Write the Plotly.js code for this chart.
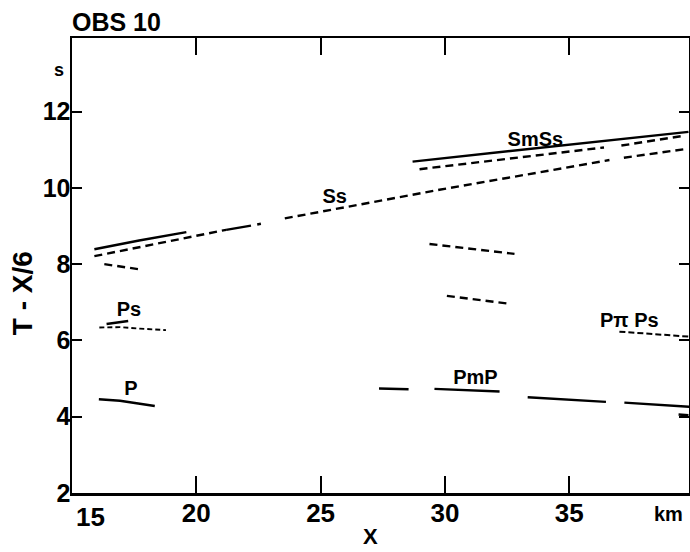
<!DOCTYPE html>
<html>
<head>
<meta charset="utf-8">
<script src="https://cdn.plot.ly/plotly-3.0.1.min.js"></script>
<style>html,body{margin:0;padding:0;background:#fff;}#chart{width:690px;height:552px;}</style>
</head>
<body>
<div id="chart"></div>
<script>
// ---- data ----
const xTickVals = [15, 20, 25, 30, 35];
const xTickText = ["15", "20", "25", "30", "35"];
const yTickVals = [2, 4, 6, 8, 10, 12];
const yTickText = ["2", "4", "6", "8", "10", "12"];

// solid SmSs branch
const smssX = [28.7, 34.8, 39.8];
const smssY = [10.69, 11.12, 11.47];
// dashed branch just below SmSs
const smssDashX = [28.98, 36.4, null, 37.1, 39.65];
const smssDashY = [10.49, 11.06, null, 11.11, 11.37];
// Ss dashed branch
const ssDashX = [15.9, 21.2, null, 23.56, 29.78, 36.62, null, 37.2, 39.69];
const ssDashY = [8.21, 8.90, null, 9.20, 9.95, 10.73, null, 10.79, 11.02];
// Ss solid pieces
const ssSolidX = [21.2, 22.2, null, 22.45, 22.6];
const ssSolidY = [8.90, 9.01, null, 9.04, 9.06];
// solid branch above Ss near the start
const upperSolidX = [15.9, 17.7, 19.6];
const upperSolidY = [8.39, 8.62, 8.84];
// short dashed branch below Ss
const lowDashX = [16.3, 17.66];
const lowDashY = [8.00, 7.87];
// Ps branches
const psSolidX = [16.39, 17.26];
const psSolidY = [6.43, 6.51];
const psDashX = [16.1, 16.93, 17.73, 18.78];
const psDashY = [6.34, 6.35, 6.31, 6.27];
// P branch
const pX = [16.08, 16.93, 18.33];
const pY = [4.46, 4.42, 4.28];
// dashed branches at far offsets
const midDash1X = [29.38, 32.8];
const midDash1Y = [8.53, 8.27];
const midDash2X = [30.08, 32.6];
const midDash2Y = [7.17, 6.96];
// PmP branch
const pmpX = [27.35, 28.54, null, 29.58, 32.2, null, 33.33, 36.48, null, 37.22, 39.83, null, 39.4, 39.8];
const pmpY = [4.74, 4.72, null, 4.73, 4.66, null, 4.51, 4.39, null, 4.37, 4.26, null, 4.06, 4.04];
// PπPs branch
const ppsX = [37.02, 39.83];
const ppsY = [6.23, 6.10];

// phase labels
const labelText = ["SmSs", "Ss", "Ps", "P", "PmP", "P\u03c0 Ps"];
const labelX = [33.64, 25.57, 17.29, 17.37, 31.23, 37.42];
const labelY = [11.23, 9.73, 6.77, 4.70, 4.99, 6.48];

// ---- drawing ----
const FONT = "Liberation Sans, Arial, sans-serif";
const DASH = "8px,5px";
const bold = s => "<b>" + s + "</b>";
function line(x, y, dash, w) {
  return {x: x, y: y, type: "scatter", mode: "lines", connectgaps: false,
          line: {color: "#000", width: w || 2.4, dash: dash || "solid"},
          hoverinfo: "skip", showlegend: false, cliponaxis: false};
}
const traces = [
  line(smssX, smssY),
  line(smssDashX, smssDashY, DASH),
  line(ssDashX, ssDashY, DASH),
  line(ssSolidX, ssSolidY),
  line(upperSolidX, upperSolidY),
  line(lowDashX, lowDashY, DASH),
  line(psSolidX, psSolidY),
  line(psDashX, psDashY, "5px,3px", 1.9),
  line(pX, pY),
  line(midDash1X, midDash1Y, DASH),
  line(midDash2X, midDash2Y, DASH),
  line(pmpX, pmpY),
  line(ppsX, ppsY, "6px,3px", 2),
  {x: labelX, y: labelY, text: labelText.map(bold), type: "scatter", mode: "text",
   textfont: {family: FONT, size: 20, color: "#000"},
   hoverinfo: "skip", showlegend: false, cliponaxis: false}
];

// the first x label sits to the right of the corner in the original
const xTickTextShown = xTickText.map((t, i) => i === 0 ? "" : bold(t));

const layout = {
  width: 690, height: 552,
  margin: {l: 72, r: 1, t: 38, b: 59},
  paper_bgcolor: "#fff", plot_bgcolor: "#fff",
  showlegend: false,
  title: {text: bold("OBS 10"), x: 0, xanchor: "left", xref: "paper",
          y: 1 - 22/552, yanchor: "middle", yref: "container",
          font: {family: FONT, size: 25, color: "#000"}},
  xaxis: {range: [15, 39.82], tickvals: xTickVals, ticktext: xTickTextShown,
          ticks: "inside", ticklen: 17, tickwidth: 2, tickcolor: "#000",
          showline: true, linewidth: 2.5, linecolor: "#000", mirror: "allticks",
          showgrid: false, zeroline: false,
          tickfont: {family: FONT, size: 26, color: "#000"},
          ticklabelstandoff: -5, title: {text: ""}},
  yaxis: {range: [2, 13.93], tickvals: yTickVals, ticktext: yTickText.map(bold),
          ticks: "inside", ticklen: 10, tickwidth: 2, tickcolor: "#000",
          showline: true, linewidth: 2.5, linecolor: "#000", mirror: "allticks",
          showgrid: false, zeroline: false,
          tickfont: {family: FONT, size: 25, color: "#000"},
          ticklabelstandoff: -6, title: {text: ""}},
  annotations: [
    {text: bold(xTickText[0]), xref: "x", x: xTickVals[0], xanchor: "left", xshift: 2,
     yref: "paper", y: 0, yanchor: "top", yshift: -7,
     showarrow: false, font: {family: FONT, size: 26, color: "#000"}},
    {text: bold("s"), xref: "x", x: 15, xanchor: "right", xshift: -6, yref: "y", y: 13.1,
     showarrow: false, font: {family: FONT, size: 18, color: "#000"}},
    {text: bold("km"), xref: "x", x: 38.98, yref: "paper", y: 0, yanchor: "top", yshift: -8,
     showarrow: false, font: {family: FONT, size: 20, color: "#000"}},
    {text: bold("X"), xref: "x", x: 27.0, yref: "paper", y: -0.1275, yanchor: "bottom",
     showarrow: false, font: {family: FONT, size: 22, color: "#000"}},
    {text: bold("T - X/6"), xref: "paper", x: -0.081, xanchor: "center", yref: "y", y: 7.24,
     textangle: -90, showarrow: false, font: {family: FONT, size: 28, color: "#000"}}
  ]
};
Plotly.newPlot("chart", traces, layout, {displayModeBar: false, staticPlot: true});
</script>
</body>
</html>
